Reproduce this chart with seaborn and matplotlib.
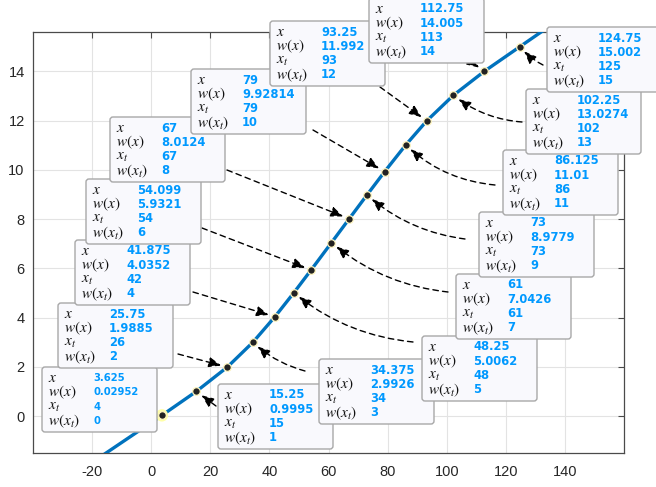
import matplotlib
matplotlib.use("Agg")
import numpy as np
import pandas as pd
import seaborn as sns
import matplotlib.pyplot as plt
from matplotlib.patches import FancyBboxPatch
from matplotlib.transforms import IdentityTransform

# ---------------- data ----------------
x_labels = ["3.625", "15.25", "25.75", "34.375", "41.875", "48.25", "54.099", "61",
            "67", "73", "79", "86.125", "93.25", "102.25", "112.75", "124.75"]
w_labels = ["0.02952", "0.9995", "1.9885", "2.9926", "4.0352", "5.0062", "5.9321", "7.0426",
            "8.0124", "8.9779", "9.92814", "11.01", "11.992", "13.0274", "14.005", "15.002"]
xt_vals = [4, 15, 26, 34, 42, 48, 54, 61, 67, 73, 79, 86, 93, 102, 113, 125]
wt_vals = [0, 1, 2, 3, 4, 5, 6, 7, 8, 9, 10, 11, 12, 13, 14, 15]
curve_start = (-16.0, -1.56)
curve_end = (134.0, 15.77)

x_ticks = [-20, 0, 20, 40, 60, 80, 100, 120, 140]
y_ticks = [0, 2, 4, 6, 8, 10, 12, 14]

xs = [float(v) for v in x_labels]
ws = [float(v) for v in w_labels]
line_df = pd.DataFrame({"x": [curve_start[0]] + xs + [curve_end[0]],
                        "w": [curve_start[1]] + ws + [curve_end[1]]})
pts_df = pd.DataFrame({"x": xs, "w": ws})

# ---------------- layout (pixels from top-left) ----------------
W, H = 656, 487
box_left = [42, 218, 58, 319, 75, 422, 86, 456, 110, 479, 191, 503, 270, 526, 369, 547]
box_top = [367, 384, 303, 359, 240, 336, 179, 274, 117, 212, 69, 150, 21, 89, -2, 27]
arrow_start = [None, (216, 406), (178, 354), (305, 371), (193, 292), (413, 342), (202, 228),
               (448, 292), (227, 170), (465, 239), (313, 130), (495, 185), (380, 87),
               (522, 122), (457, 52), (543, 65)]
arrow_rad = [0, 0, 0, -0.12, 0, -0.15, 0, -0.15, 0, -0.15, 0, -0.17, 0, -0.15, 0, -0.1]
BW, BH = 115, 65

# ---------------- style ----------------
sns.set_style("white")
plt.rcParams["font.family"] = ["Liberation Sans", "DejaVu Sans"]
plt.rcParams["mathtext.fontset"] = "stix"
plt.rcParams["axes.unicode_minus"] = False

fig = plt.figure(figsize=(W / 100, H / 100), dpi=100)
ax = fig.add_axes([33 / W, 34 / H, 591 / W, 421 / H])

sns.lineplot(data=line_df, x="x", y="w", sort=False, color="#0072BD", lw=2.4,
             ax=ax, zorder=3)
# selected-tip halo for the first point
sns.scatterplot(x=[xs[0]], y=[ws[0]], s=80, color="#ffffa8", edgecolor="none",
                ax=ax, zorder=4)
sns.scatterplot(data=pts_df, x="x", y="w", s=30, color="#222222",
                edgecolor="#fff6c0", linewidth=0.9, ax=ax, zorder=5)

ax.set_xlim(-40, 160)
ax.set_ylim(-1.5, 15.6)
ax.set_xticks(x_ticks)
ax.set_yticks(y_ticks)
ax.set_xlabel("")
ax.set_ylabel("")
ax.grid(True, color="#e3e3e3", lw=0.8)
ax.set_axisbelow(True)
for s in ax.spines.values():
    s.set_color("#4a4a4a")
    s.set_linewidth(0.9)
ax.tick_params(direction="in", length=4, width=0.8, color="#4a4a4a",
               top=True, right=True, labelsize=10.5, labelcolor="#262626")
ax.tick_params(axis="x", pad=9)
ax.tick_params(axis="y", pad=6)

# ---------------- arrows ----------------
for i, st in enumerate(arrow_start):
    if st is None:
        continue
    ann = ax.annotate("", xy=(xs[i], ws[i]), xycoords="data",
                      xytext=(st[0], H - st[1]), textcoords="figure pixels",
                      arrowprops=dict(arrowstyle="-|>,head_length=0.75,head_width=0.3",
                                      mutation_scale=10, color="black", lw=1.0,
                                      linestyle=(0, (4, 3)), shrinkA=0, shrinkB=4.5,
                                      connectionstyle=f"arc3,rad={arrow_rad[i]}"),
                      annotation_clip=False, zorder=6)

# ---------------- data tip boxes ----------------
ident = IdentityTransform()
row_labels = [r"$x$", r"$w(x)$", r"$x_t$", r"$w(x_t)$"]
for i in range(len(xs)):
    L = box_left[i]
    T = box_top[i]
    box = FancyBboxPatch((L, H - T - BH), BW, BH,
                         boxstyle="round,pad=0,rounding_size=3",
                         facecolor="#f9f9fd", edgecolor="#a8a8a8", lw=1.0,
                         transform=ident, zorder=10)
    fig.add_artist(box)
    vals = [x_labels[i], w_labels[i], str(xt_vals[i]), str(wt_vals[i])]
    vsize = 7.2 if i == 0 else 8.3
    for r in range(4):
        yc = H - (T + 11 + r * 14.3)
        fig.text(L + 6, yc, row_labels[r], transform=ident, fontsize=11,
                 color="#111111", va="center", ha="left", zorder=11)
        fig.text(L + 51, yc, vals[r], transform=ident, fontsize=vsize,
                 fontweight="bold", family=["DejaVu Sans"],
                 color="#0099FF", va="center", ha="left", zorder=11)

fig.savefig("out.png", dpi=100)
